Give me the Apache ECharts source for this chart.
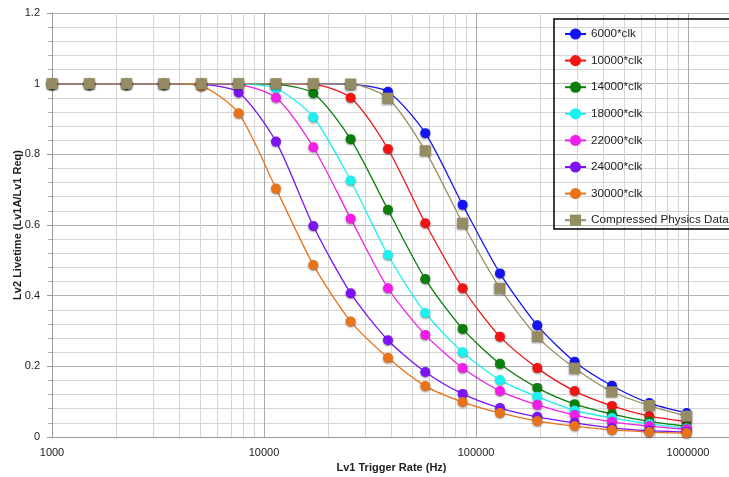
<!DOCTYPE html>
<html>
<head>
<meta charset="utf-8">
<script src="https://cdn.jsdelivr.net/npm/echarts@6/dist/echarts.min.js"></script>
<style>
  html, body { margin: 0; padding: 0; background: #fff; }
  #chart { width: 729px; height: 477px; }
</style>
</head>
<body>
<div id="chart"></div>
<script>
// x positions (Hz) - every point is 1.5x the previous one
const rates = [1000, 1500, 2250, 3375, 5063, 7594, 11391, 17086, 25629, 38443,
  57665, 86498, 129746, 194620, 291929, 437894, 656841, 985261]

const names = ['6000*clk', '10000*clk', '14000*clk', '18000*clk', '22000*clk',
  '24000*clk', '30000*clk', 'Compressed Physics Data']
const colors = ['#1414f0', '#f01414', '#0a7d0a', '#1ef0f0', '#f01ee6',
  '#7a14f0', '#e8731a', '#968c64']

// livetime values
const clk6000 = [1, 1, 1, 1, 1, 1, 1, 1, 0.998, 0.977, 0.860, 0.657, 0.463, 0.316, 0.213, 0.145, 0.096, 0.068]
const clk10000 = [1, 1, 1, 1, 1, 1, 1, 0.998, 0.960, 0.815, 0.605, 0.421, 0.284, 0.195, 0.130, 0.088, 0.059, 0.044]
const clk14000 = [1, 1, 1, 1, 1, 1, 0.998, 0.973, 0.843, 0.643, 0.447, 0.306, 0.207, 0.139, 0.093, 0.065, 0.044, 0.030]
const clk18000 = [1, 1, 1, 1, 1, 0.999, 0.987, 0.905, 0.726, 0.515, 0.351, 0.240, 0.161, 0.114, 0.075, 0.054, 0.037, 0.025]
const clk22000 = [1, 1, 1, 1, 1, 0.997, 0.960, 0.820, 0.618, 0.421, 0.289, 0.195, 0.130, 0.091, 0.062, 0.043, 0.031, 0.022]
const clk24000 = [1, 1, 1, 1, 0.998, 0.975, 0.836, 0.597, 0.407, 0.274, 0.184, 0.122, 0.082, 0.057, 0.040, 0.026, 0.018, 0.014]
const clk30000 = [1, 1, 1, 1, 0.993, 0.916, 0.703, 0.487, 0.327, 0.224, 0.144, 0.099, 0.068, 0.045, 0.031, 0.020, 0.014, 0.011]
const compressed = [1, 1, 1, 1, 1, 1, 1, 1, 0.999, 0.959, 0.810, 0.605, 0.421, 0.284, 0.195, 0.128, 0.089, 0.059]

const allValues = [clk6000, clk10000, clk14000, clk18000, clk22000, clk24000, clk30000, compressed]

// minor log grid lines (2..9 in each decade)
const minorRates = []
for (let d of [1000, 10000, 100000]) {
  for (let m = 2; m <= 9; m++) minorRates.push(d * m)
}

const FONT = 'Liberation Sans'

let chart = echarts.init(document.getElementById('chart'))

const lineSeries = names.map((name, i) => {
  let isComp = i === names.length - 1
  return {
    name: name,
    type: 'line',
    data: rates.map((x, j) => [x, allValues[i][j]]),
    symbol: isComp ? 'rect' : 'circle',
    symbolSize: isComp ? 11 : 10,
    smooth: 0.25,
    color: colors[i],
    lineStyle: { width: 1.3, color: colors[i] },
    itemStyle: {
      color: colors[i],
      shadowBlur: 2,
      shadowOffsetY: 1,
      shadowColor: 'rgba(0,0,0,0.45)'
    },
    emphasis: { disabled: true },
    animation: false
  }
})

// grid helper series: only carries the minor vertical lines
const gridSeries = {
  name: 'minorGrid',
  type: 'line',
  data: [],
  silent: true,
  animation: false,
  markLine: {
    z: 1,
    silent: true,
    symbol: ['none', 'none'],
    label: { show: false },
    lineStyle: { color: '#d6d6d6', width: 1, type: 'solid' },
    emphasis: { disabled: true },
    animation: false,
    data: minorRates.map(v => ({ xAxis: v }))
  }
}

let option = {
  backgroundColor: '#fff',
  textStyle: { fontFamily: FONT },
  animation: false,
  // plot runs slightly past the right edge (picture is cropped there)
  grid: { left: 52, right: -2, top: 13, bottom: 40, outerBoundsMode: 'none', containLabel: false },
  // legend frame runs off the right edge in the original, so draw it by hand
  graphic: [{
    type: 'rect',
    shape: { x: 554, y: 19, width: 200, height: 210 },
    style: { fill: 'none', stroke: '#000', lineWidth: 1.5 },
    silent: true,
    z: 10
  }],
  legend: {
    data: names,
    orient: 'vertical',
    left: 554,
    top: 19,
    padding: [9, 10, 5, 10],
    itemGap: 14.6,
    itemWidth: 21,
    itemHeight: 14,
    borderWidth: 0,
    textStyle: { fontFamily: FONT, fontSize: 11.7, color: '#222' }
  },
  xAxis: {
    type: 'log',
    logBase: 10,
    min: 1000,
    max: 1595000,
    name: 'Lv1 Trigger Rate (Hz)',
    nameLocation: 'middle',
    nameGap: 22,
    nameTextStyle: { fontFamily: FONT, fontWeight: 'bold', fontSize: 11, color: '#222' },
    axisLine: { show: true, lineStyle: { color: '#999' } },
    axisTick: { show: false },
    axisLabel: {
      fontFamily: FONT, fontSize: 11, color: '#222', margin: 10,
      showMaxLabel: false,
      formatter: v => String(Math.round(v))
    },
    splitLine: { show: true, lineStyle: { color: '#a8a8a8', width: 1 } }
  },
  yAxis: {
    type: 'value',
    min: 0,
    max: 1.2,
    interval: 0.2,
    name: 'Lv2 Livetime (Lv1A/Lv1 Req)',
    nameLocation: 'middle',
    nameGap: 29,
    nameMoveOverlap: false,
    nameTextStyle: { fontFamily: FONT, fontWeight: 'bold', fontSize: 11, color: '#222' },
    axisLine: { show: true, lineStyle: { color: '#999' } },
    axisTick: { show: true, length: 5, lineStyle: { color: '#999' } },
    minorTick: { show: true, splitNumber: 5, length: 4, lineStyle: { color: '#aaa' } },
    axisLabel: {
      fontFamily: FONT, fontSize: 11, color: '#222', margin: 12,
      formatter: v => String(Math.round(v * 10) / 10)
    },
    splitLine: { show: true, lineStyle: { color: '#b4b4b4', width: 1 } },
    minorSplitLine: { show: true, lineStyle: { color: '#d6d6d6', width: 1 } }
  },
  series: [gridSeries].concat(lineSeries)
}

chart.setOption(option)
</script>
</body>
</html>
